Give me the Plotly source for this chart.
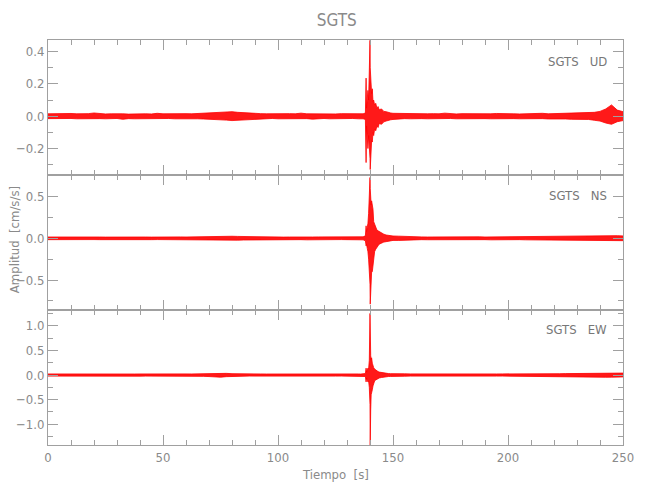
import numpy as np
import plotly.graph_objects as go
from plotly.subplots import make_subplots

# ---- sample times (s): quiet grid, dense around the event, quiet grid ----
t_quiet_a = list(np.arange(0, 135.1, 2.5))
t_event = [136, 137, 138, 138.3, 138.5, 138.8, 139.1, 139.4, 139.7, 140.0,
           140.1, 140.3, 140.5, 140.7, 141.0, 141.3, 141.6, 142.0, 142.5, 143.0,
           143.5, 144.0, 145.0, 146.0, 147.0, 148.0, 149.0, 150.0]
t_quiet_b = list(np.arange(152.5, 250.1, 2.5))
t_env = t_quiet_a + t_event + t_quiet_b

# ---- UD envelope (cm/s/s) ----
up_ud = [0.015,0.016,0.014,0.015,0.017,0.015,0.014,0.016,0.020,0.015,
         0.014,0.015,0.016,0.015,0.013,0.015,0.016,0.015,0.014,0.018,
         0.015,0.016,0.014,0.015,0.016,0.015,0.017,0.016,0.018,0.020,
         0.022,0.025,0.028,0.024,0.021,0.019,0.017,0.016,0.015,0.016,
         0.014,0.015,0.016,0.015,0.019,0.015,0.014,0.015,0.016,0.015,
         0.014,0.016,0.015,0.017,0.016,
         0.016,0.015,0.020,0.236,0.050,0.120,0.160,0.100,0.250,0.470,
         0.300,0.200,0.180,0.140,0.170,0.090,0.100,0.070,0.080,0.050,
         0.060,0.040,0.045,0.030,0.028,0.022,0.020,0.018,
         0.017,0.016,0.015,0.016,0.014,0.015,0.016,0.015,0.019,0.015,
         0.014,0.016,0.015,0.015,0.016,0.014,0.015,0.017,0.015,0.016,
         0.015,0.014,0.016,0.015,0.016,0.018,0.015,0.016,0.017,0.018,
         0.017,0.019,0.018,0.021,0.024,0.030,0.045,0.070,0.038,0.028]
lo_ud = [-0.015,-0.014,-0.016,-0.015,-0.014,-0.016,-0.015,-0.015,-0.017,-0.015,
         -0.016,-0.015,-0.014,-0.019,-0.015,-0.016,-0.015,-0.014,-0.016,-0.015,
         -0.015,-0.014,-0.016,-0.015,-0.017,-0.015,-0.016,-0.017,-0.018,-0.020,
         -0.022,-0.024,-0.027,-0.025,-0.021,-0.019,-0.017,-0.016,-0.015,-0.014,
         -0.016,-0.015,-0.015,-0.014,-0.016,-0.015,-0.018,-0.015,-0.014,-0.016,
         -0.015,-0.015,-0.016,-0.014,-0.016,
         -0.015,-0.016,-0.020,-0.287,-0.060,-0.150,-0.200,-0.120,-0.180,-0.260,
         -0.330,-0.220,-0.200,-0.150,-0.160,-0.100,-0.120,-0.080,-0.090,-0.060,
         -0.070,-0.045,-0.050,-0.035,-0.030,-0.024,-0.022,-0.020,
         -0.016,-0.015,-0.016,-0.014,-0.015,-0.016,-0.015,-0.018,-0.015,-0.014,
         -0.016,-0.015,-0.015,-0.016,-0.014,-0.015,-0.016,-0.015,-0.015,-0.017,
         -0.015,-0.016,-0.015,-0.014,-0.016,-0.015,-0.017,-0.016,-0.018,-0.017,
         -0.019,-0.018,-0.021,-0.020,-0.025,-0.030,-0.042,-0.050,-0.034,-0.027]

# ---- NS envelope ----
up_ns = [0.016,0.017,0.015,0.016,0.018,0.016,0.015,0.016,0.017,0.016,
         0.015,0.016,0.020,0.016,0.015,0.017,0.016,0.016,0.015,0.017,
         0.016,0.015,0.016,0.017,0.016,0.018,0.019,0.021,0.023,0.025,
         0.026,0.024,0.025,0.023,0.021,0.019,0.018,0.017,0.016,0.017,
         0.016,0.015,0.016,0.018,0.016,0.015,0.016,0.017,0.016,0.015,
         0.016,0.017,0.016,0.015,0.017,
         0.015,0.018,0.030,0.150,0.080,0.120,0.180,0.300,0.450,0.730,
         0.600,0.520,0.400,0.450,0.400,0.350,0.200,0.170,0.140,0.100,
         0.090,0.080,0.060,0.050,0.040,0.035,0.030,0.028,
         0.026,0.022,0.020,0.018,0.017,0.016,0.017,0.016,0.015,0.016,
         0.017,0.016,0.015,0.016,0.018,0.016,0.017,0.016,0.015,0.017,
         0.016,0.017,0.018,0.017,0.019,0.020,0.021,0.022,0.024,0.025,
         0.026,0.027,0.029,0.028,0.030,0.031,0.033,0.030,0.032,0.029]
lo_ns = [-0.016,-0.015,-0.017,-0.016,-0.015,-0.016,-0.018,-0.016,-0.015,-0.016,
         -0.017,-0.016,-0.015,-0.016,-0.019,-0.016,-0.015,-0.017,-0.016,-0.015,
         -0.016,-0.017,-0.016,-0.015,-0.017,-0.018,-0.020,-0.022,-0.024,-0.025,
         -0.024,-0.026,-0.023,-0.022,-0.020,-0.019,-0.017,-0.016,-0.017,-0.016,
         -0.015,-0.017,-0.016,-0.015,-0.016,-0.018,-0.016,-0.015,-0.016,-0.017,
         -0.016,-0.015,-0.016,-0.017,-0.016,
         -0.016,-0.018,-0.030,-0.090,-0.070,-0.120,-0.160,-0.250,-0.400,-0.550,
         -0.790,-0.620,-0.500,-0.400,-0.400,-0.330,-0.220,-0.160,-0.130,-0.100,
         -0.090,-0.070,-0.055,-0.045,-0.040,-0.032,-0.028,-0.025,
         -0.025,-0.021,-0.019,-0.018,-0.016,-0.017,-0.016,-0.015,-0.016,-0.017,
         -0.016,-0.015,-0.017,-0.016,-0.015,-0.016,-0.018,-0.016,-0.017,-0.016,
         -0.017,-0.016,-0.018,-0.019,-0.018,-0.020,-0.022,-0.021,-0.024,-0.025,
         -0.027,-0.026,-0.028,-0.030,-0.029,-0.031,-0.032,-0.030,-0.031,-0.028]

# ---- EW envelope ----
up_ew = [0.022,0.021,0.023,0.022,0.021,0.024,0.022,0.021,0.022,0.028,
         0.022,0.021,0.022,0.023,0.022,0.021,0.022,0.024,0.022,0.021,
         0.022,0.023,0.021,0.022,0.023,0.022,0.024,0.026,0.030,0.038,
         0.042,0.034,0.028,0.024,0.022,0.021,0.023,0.022,0.021,0.022,
         0.023,0.022,0.021,0.025,0.022,0.021,0.022,0.023,0.022,0.021,
         0.022,0.023,0.022,0.021,0.022,
         0.020,0.022,0.030,0.140,0.060,0.100,0.140,0.120,0.300,1.250,
         0.650,0.400,0.300,0.350,0.240,0.180,0.150,0.120,0.100,0.080,
         0.070,0.060,0.050,0.040,0.035,0.030,0.028,0.025,
         0.028,0.025,0.023,0.022,0.021,0.022,0.023,0.022,0.021,0.022,
         0.024,0.022,0.021,0.022,0.023,0.022,0.021,0.022,0.023,0.022,
         0.022,0.023,0.022,0.024,0.023,0.025,0.024,0.026,0.027,0.029,
         0.030,0.032,0.034,0.036,0.038,0.042,0.046,0.042,0.044,0.040]
lo_ew = [-0.022,-0.023,-0.021,-0.022,-0.024,-0.022,-0.021,-0.022,-0.023,-0.022,
         -0.021,-0.022,-0.027,-0.022,-0.021,-0.022,-0.023,-0.022,-0.021,-0.022,
         -0.023,-0.022,-0.021,-0.022,-0.024,-0.022,-0.023,-0.027,-0.031,-0.040,
         -0.044,-0.033,-0.027,-0.023,-0.022,-0.021,-0.022,-0.023,-0.022,-0.021,
         -0.022,-0.023,-0.022,-0.021,-0.022,-0.024,-0.022,-0.021,-0.022,-0.023,
         -0.022,-0.021,-0.022,-0.023,-0.022,
         -0.020,-0.022,-0.030,-0.140,-0.060,-0.100,-0.140,-0.120,-0.250,-0.600,
         -1.420,-0.710,-0.400,-0.370,-0.300,-0.220,-0.160,-0.120,-0.100,-0.080,
         -0.070,-0.060,-0.050,-0.040,-0.035,-0.030,-0.028,-0.025,
         -0.027,-0.024,-0.022,-0.023,-0.022,-0.021,-0.022,-0.023,-0.022,-0.021,
         -0.022,-0.024,-0.022,-0.021,-0.022,-0.023,-0.022,-0.022,-0.021,-0.023,
         -0.022,-0.022,-0.024,-0.023,-0.025,-0.024,-0.026,-0.025,-0.028,-0.030,
         -0.031,-0.033,-0.035,-0.037,-0.039,-0.043,-0.045,-0.043,-0.041,-0.038]

components = ["UD", "NS", "EW"]
station = "SGTS"
y_ranges = [[-0.364, 0.472], [-0.86, 0.76], [-1.42, 1.32]]
y_dticks = [0.2, 0.5, 0.5]
y_minor = [0.1, 0.25, 0.25]
x_range = [0, 250]

uppers = [up_ud, up_ns, up_ew]
lowers = [lo_ud, lo_ns, lo_ew]

GREY = "#8a8a8a"
AXIS = "#a0a0a0"
FONT = "DejaVu Sans Condensed, Liberation Sans Narrow, Arial Narrow, sans-serif"

fig = make_subplots(rows=3, cols=1, shared_xaxes=True, vertical_spacing=0)

for i in range(3):
    r = i + 1
    fig.add_trace(go.Scatter(x=t_env, y=lowers[i], mode="lines",
                             line=dict(color="red", width=0.8),
                             hoverinfo="skip", showlegend=False), row=r, col=1)
    fig.add_trace(go.Scatter(x=t_env, y=uppers[i], mode="lines",
                             line=dict(color="red", width=0.8),
                             fill="tonexty", fillcolor="rgba(255,0,0,0.9)",
                             hoverinfo="skip", showlegend=False), row=r, col=1)
    fig.update_yaxes(range=y_ranges[i], dtick=y_dticks[i], tick0=0,
                     tickformat=".1f", ticks="inside", ticklen=10,
                     tickcolor=AXIS, showline=True, linecolor=AXIS, linewidth=1,
                     mirror="allticks", showgrid=False, zeroline=False,
                     tickfont=dict(family=FONT, size=13, color=GREY),
                     minor=dict(dtick=y_minor[i], tick0=0, ticks="inside",
                                ticklen=5, tickcolor=AXIS, showgrid=False),
                     row=r, col=1)
    fig.update_xaxes(range=x_range, dtick=50, tick0=0, ticks="inside",
                     ticklen=10, tickcolor=AXIS, showline=True, linecolor=AXIS,
                     linewidth=1, mirror="allticks", showgrid=False,
                     zeroline=False,
                     tickfont=dict(family=FONT, size=13, color=GREY),
                     minor=dict(dtick=10, tick0=0, ticks="inside", ticklen=5,
                                tickcolor=AXIS, showgrid=False),
                     showticklabels=(r == 3), row=r, col=1)

label_y = [0.948, 0.615, 0.284]
for i in range(3):
    fig.add_annotation(text=f"{station}&nbsp;&nbsp;&nbsp;{components[i]}",
                       xref="paper", yref="paper", x=0.976, y=label_y[i],
                       xanchor="right", yanchor="middle", showarrow=False,
                       font=dict(family=FONT, size=13, color="#777777"))

fig.add_annotation(text="Tiempo&nbsp;&nbsp;[s]", xref="paper", yref="paper",
                   x=0.5, y=-0.073, xanchor="center", yanchor="middle",
                   showarrow=False, font=dict(family=FONT, size=13, color=GREY))
fig.add_annotation(text="Amplitud&nbsp;&nbsp;[cm/s/s]", xref="paper", yref="paper",
                   x=-0.059, y=0.506, xanchor="center", yanchor="middle",
                   textangle=-90, showarrow=False,
                   font=dict(family=FONT, size=13, color=GREY))

fig.update_layout(
    width=650, height=500,
    margin=dict(l=48, r=27, t=40, b=55),
    paper_bgcolor="white", plot_bgcolor="white",
    title=dict(text=station, x=0.518, xanchor="center", y=0.96, yanchor="middle",
               font=dict(family=FONT, size=17, color=GREY)),
    showlegend=False,
)

fig.write_html("out.html",
               config={"displayModeBar": False},
               post_script="document.body.style.margin='0';")
